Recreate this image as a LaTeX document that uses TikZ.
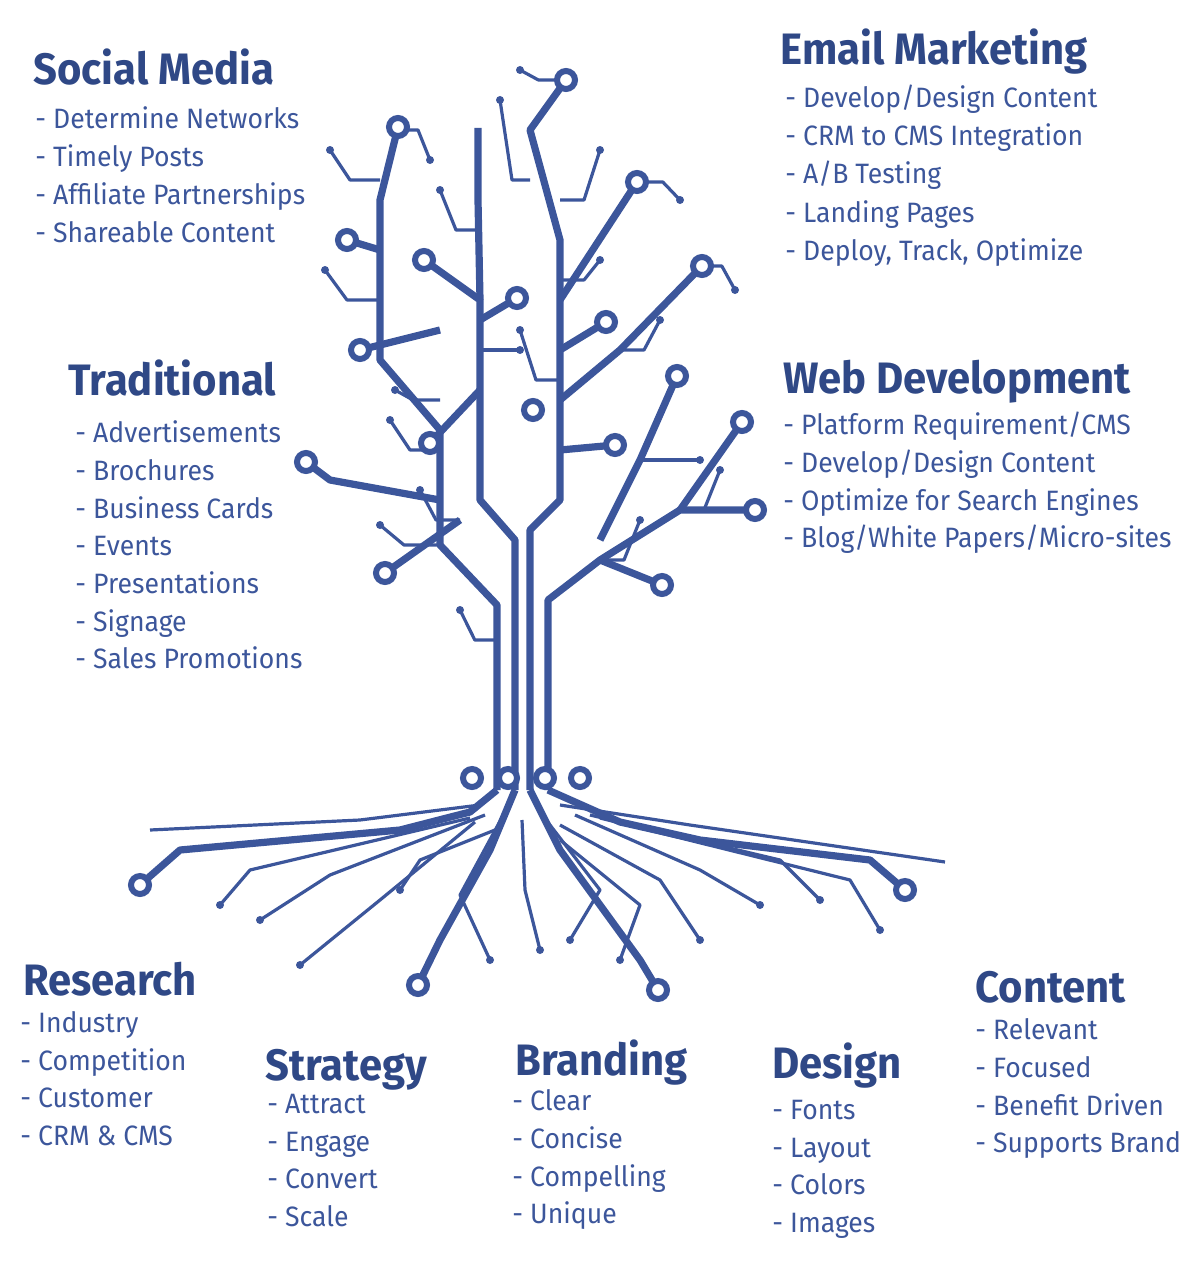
\documentclass[tikz,border=0pt]{standalone}
\usepackage{fontspec}
\setmainfont{Fira Sans}[FakeStretch=0.95]
\usetikzlibrary{positioning}
\definecolor{treeblue}{HTML}{3C569B}
\definecolor{headblue}{HTML}{2F4886}
\begin{document}
\begin{tikzpicture}[x=0.5pt,y=-0.5pt,
trunk/.style={draw=treeblue, line width=3.6pt, line join=round},
twig/.style={draw=treeblue, line width=1.6pt, line join=round},
pad/.style={circle, draw=treeblue, fill=white, line width=3pt, inner sep=0pt, minimum size=9pt},
dot/.style={circle, fill=treeblue, inner sep=0pt, minimum size=4pt},
head/.style={anchor=base west, font=\bfseries\fontsize{22}{24}\selectfont, text=headblue, inner sep=0pt},
item/.style={anchor=base west, font=\fontsize{14}{16}\selectfont, text=treeblue, inner sep=0pt},
]
\useasboundingbox (0,0) rectangle (1200,1263);
% trunk and branches
\draw[trunk] (497,790) -- (497,605) -- (440,545) -- (440,430) -- (380,360) -- (380,200) -- (398,127);
\draw[trunk] (440,500) -- (330,480) -- (306,462);
\draw[trunk] (460,520) -- (385,573);
\draw[trunk] (515,790) -- (515,540) -- (480,500) -- (480,300) -- (424,260);
\draw[trunk] (480,390) -- (430,443);
\draw[trunk] (530,790) -- (530,530) -- (560,500) -- (560,240) -- (530,130) -- (566,80);
\draw[trunk] (560,400) -- (620,350) -- (702,266);
\draw[trunk] (560,450) -- (615,445);
\draw[trunk] (548,790) -- (548,600) -- (600,560) -- (662,585);
\draw[trunk] (600,560) -- (680,510) -- (755,510);
\draw[trunk] (680,510) -- (742,422);
\draw[trunk] (600,540) -- (640,460) -- (677,376);
\draw[trunk] (560,300) -- (637,182);
\draw[trunk] (440,330) -- (360,350);
\draw[trunk] (380,250) -- (347,240);
\draw[trunk] (480,320) -- (517,298);
\draw[trunk] (560,350) -- (606,322);
\draw[trunk] (530,420) -- (533,410);
\draw[trunk] (478,128) -- (478,200) -- (480,300);
% twigs
\foreach \a/\b/\c/\d in {380/180/330/150, 380/300/325/270, 440/450/390/420, 440/400/395/390,
  480/230/440/190, 480/350/520/350, 560/200/600/150, 560/280/600/260, 560/380/520/330,
  620/350/660/320, 640/460/700/460, 680/510/720/470, 600/560/640/520, 460/520/420/490,
  530/180/500/100, 400/130/430/160, 566/80/520/70, 637/182/680/200, 702/266/735/290,
  440/545/380/525, 497/640/460/610}
  \draw[twig] (\a,\b) -- ({\a+0.6*(\c-\a)},\b) -- (\c,\d) node[dot]{};
% roots
\draw[trunk] (497,790) -- (470,812) -- (400,830) -- (180,850) -- (140,885);
\draw[trunk] (515,790) -- (490,850) -- (440,940) -- (418,985);
\draw[trunk] (530,790) -- (560,850) -- (640,960) -- (658,990);
\draw[trunk] (548,790) -- (620,822) -- (700,840) -- (870,860) -- (905,890);
\draw[twig] (480,805) -- (360,820) -- (150,830);
\draw[twig] (560,805) -- (690,825) -- (945,862);
\foreach \a/\b/\c/\d/\e/\f in {505/812/460/895/490/960, 522/820/525/890/540/950, 540/812/600/890/570/940,
  485/815/330/875/260/920, 475/822/380/900/300/965, 575/815/700/870/760/905,
  590/815/780/860/820/900, 560/825/660/880/700/940, 495/830/420/860/400/890,
  560/840/640/905/620/960, 600/818/850/880/880/930, 470/818/250/870/220/905}
  \draw[twig] (\a,\b) -- (\c,\d) -- (\e,\f) node[dot]{};
% pads
\foreach \x/\y in {398/127,306/462,385/573,424/260,430/443,566/80,702/266,615/445,662/585,
  755/510,742/422,677/376,637/182,360/350,347/240,517/298,606/322,533/410,
  140/885,418/985,658/990,905/890,472/778,508/778,545/778,580/778}
  \node[pad] at (\x,\y) {};
% texts
\node[head] (social) at (33,85) {Social Media};
\foreach \t [count=\i] in {Determine Networks,Timely Posts,Affiliate Partnerships,Shareable Content}
  \node[item] at (35,90+38*\i) {- \t};
\node[head] (email) at (780,65) {Email Marketing};
\foreach \t [count=\i] in {Develop/Design Content,CRM to CMS Integration,A/B Testing,Landing Pages,{Deploy, Track, Optimize}}
  \node[item] at (785,70+38*\i) {- \t};
\node[head] (trad) at (68,395) {Traditional};
\foreach \t [count=\i] in {Advertisements,Brochures,Business Cards,Events,Presentations,Signage,Sales Promotions}
  \node[item] at (75,405+37.7*\i) {- \t};
\node[head] (web) at (783,393) {Web Development};
\foreach \t [count=\i] in {Platform Requirement/CMS,Develop/Design Content,Optimize for Search Engines,Blog/White Papers/Micro-sites}
  \node[item] at (783,397+37.7*\i) {- \t};
\node[head] (research) at (23,995) {Research};
\foreach \t [count=\i] in {Industry,Competition,Customer,CRM \& CMS}
  \node[item] at (20,995+37.5*\i) {- \t};
\node[head] (strategy) at (265,1080) {Strategy};
\foreach \t [count=\i] in {Attract,Engage,Convert,Scale}
  \node[item] at (267,1076+37.5*\i) {- \t};
\node[head] (branding) at (515,1075) {Branding};
\foreach \t [count=\i] in {Clear,Concise,Compelling,Unique}
  \node[item] at (512,1073+37.7*\i) {- \t};
\node[head] (design) at (772,1078) {Design};
\foreach \t [count=\i] in {Fonts,Layout,Colors,Images}
  \node[item] at (772,1082+37.5*\i) {- \t};
\node[head] (content) at (975,1002) {Content};
\foreach \t [count=\i] in {Relevant,Focused,Benefit Driven,Supports Brand}
  \node[item] at (975,1002+37.7*\i) {- \t};
\end{tikzpicture}
\end{document}
